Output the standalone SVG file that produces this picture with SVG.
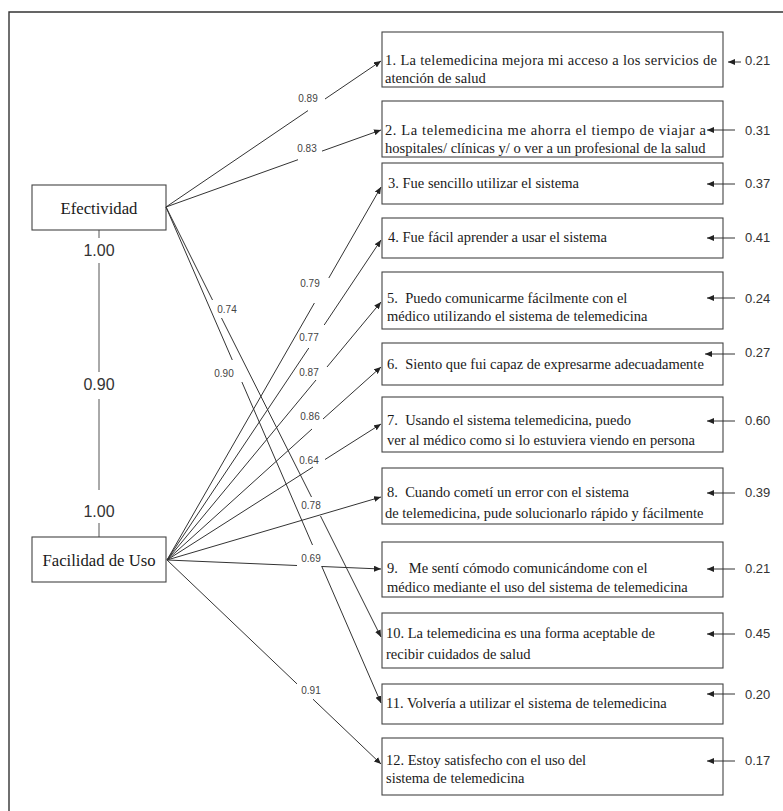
<svg xmlns="http://www.w3.org/2000/svg" width="783" height="811" viewBox="0 0 783 811">
<style>
.frame{fill:none;stroke:#333;stroke-width:1.4}
.box{fill:#fff;stroke:#444;stroke-width:1.1}
.lat{font-family:"Liberation Serif","Times New Roman",serif;font-size:16.7px;fill:#1a1a1a;text-anchor:middle}
.item{font-family:"Liberation Serif","Times New Roman",serif;font-size:14.5px;fill:#1a1a1a;white-space:pre}
.cor{font-family:"Liberation Sans",Arial,sans-serif;font-size:16px;fill:#333;text-anchor:middle}
.lbl{font-family:"Liberation Sans",Arial,sans-serif;font-size:10px;fill:#444;text-anchor:middle}
.res{font-family:"Liberation Sans",Arial,sans-serif;font-size:13px;fill:#333}
.arr{fill:none;stroke:#333;stroke-width:1;marker-end:url(#ah)}
.vl{fill:none;stroke:#555;stroke-width:1}
</style>
<defs>
<marker id="ah" markerUnits="userSpaceOnUse" markerWidth="7" markerHeight="6" refX="7" refY="3" orient="auto">
<path d="M0,0 L7,3 L0,6 z" fill="#222"/>
</marker>
</defs>
<rect width="783" height="811" fill="#fff"/>
<path class="frame" d="M9,811 L9,12 L783,12"/>

<g id="correlation">
<path class="vl" d="M99,230 L99,238 M99,263 L99,372 M99,399 L99,490 M99,523 L99,537"/>
<text class="cor" x="99" y="256">1.00</text>
<text class="cor" x="99" y="390">0.90</text>
<text class="cor" x="99" y="517">1.00</text>
</g>

<g id="efectividad">
<rect class="box" x="32" y="185" width="134" height="45"/>
<text class="lat" x="99" y="214">Efectividad</text>
</g>
<g id="facilidad">
<rect class="box" x="32" y="537" width="134" height="45"/>
<text class="lat" x="99" y="566">Facilidad de Uso</text>
</g>

<g id="item1">
<rect class="box" x="382" y="32" width="341" height="55"/>
<text class="item" x="385" y="65" textLength="332" lengthAdjust="spacing">1. La telemedicina mejora mi acceso a los servicios de</text>
<text class="item" x="385" y="83">atención de salud</text>
</g>
<g id="item2">
<rect class="box" x="382" y="101" width="341" height="56"/>
<text class="item" x="385" y="135" textLength="321" lengthAdjust="spacing">2. La telemedicina me ahorra el tiempo de viajar a</text>
<text class="item" x="385" y="153">hospitales/ clínicas y/ o ver a un profesional de la salud</text>
</g>
<g id="item3">
<rect class="box" x="382" y="163" width="341" height="41"/>
<text class="item" x="388" y="188">3. Fue sencillo utilizar el sistema</text>
</g>
<g id="item4">
<rect class="box" x="382" y="218" width="341" height="40"/>
<text class="item" x="388" y="242">4. Fue fácil aprender a usar el sistema</text>
</g>
<g id="item5">
<rect class="box" x="382" y="272" width="341" height="57"/>
<text class="item" x="387" y="303">5.  Puedo comunicarme fácilmente con el</text>
<text class="item" x="387" y="321">médico utilizando el sistema de telemedicina</text>
</g>
<g id="item6">
<rect class="box" x="382" y="343" width="341" height="42"/>
<text class="item" x="387" y="369">6.  Siento que fui capaz de expresarme adecuadamente</text>
</g>
<g id="item7">
<rect class="box" x="382" y="397" width="341" height="55"/>
<text class="item" x="387" y="425">7.  Usando el sistema telemedicina, puedo</text>
<text class="item" x="387" y="445">ver al médico como si lo estuviera viendo en persona</text>
</g>
<g id="item8">
<rect class="box" x="382" y="468" width="341" height="56"/>
<text class="item" x="387" y="497">8.  Cuando cometí un error con el sistema</text>
<text class="item" x="385" y="518">de telemedicina, pude solucionarlo rápido y fácilmente</text>
</g>
<g id="item9">
<rect class="box" x="382" y="542" width="341" height="55"/>
<text class="item" x="387" y="573">9.   Me sentí cómodo comunicándome con el</text>
<text class="item" x="387" y="592">médico mediante el uso del sistema de telemedicina</text>
</g>
<g id="item10">
<rect class="box" x="382" y="613" width="341" height="55"/>
<text class="item" x="386" y="638">10. La telemedicina es una forma aceptable de</text>
<text class="item" x="386" y="659">recibir cuidados de salud</text>
</g>
<g id="item11">
<rect class="box" x="382" y="684" width="341" height="40"/>
<text class="item" x="386" y="708">11. Volvería a utilizar el sistema de telemedicina</text>
</g>
<g id="item12">
<rect class="box" x="382" y="738" width="341" height="57"/>
<text class="item" x="386" y="765">12. Estoy satisfecho con el uso del</text>
<text class="item" x="386" y="783">sistema de telemedicina</text>
</g>

<g id="connectors">
<path class="arr" d="M166,207 L308,110.6 M325,99 L381,61"/>
<path class="arr" d="M166,207 L298,159.7 M322,151.1 L381,130"/>
<path class="arr" d="M166,207 L212.5,300 M221.5,318 L311.5,497 M320.5,516 L381,637"/>
<path class="arr" d="M166,207 L232.3,360 M241.9,382 L312.5,545 M321.6,566 L381,703"/>
<path class="arr" d="M167,560 L314.4,303 M328.8,278 L381,187"/>
<path class="arr" d="M167,560 L308.8,348 M324.2,325 L381,240"/>
<path class="arr" d="M167,560 L316,380 M327,367 L381,302"/>
<path class="arr" d="M167,560 L312,429 M323,419 L381,367"/>
<path class="arr" d="M167,560 L313,467 M325,459.5 L381,424"/>
<path class="arr" d="M167,560 L381,497"/>
<path class="arr" d="M167,560 L297,565.5 M322,566.5 L381,569"/>
<path class="arr" d="M167,560 L297,683.9 M313,699.2 L381,764"/>
<path class="arr" d="M741,62 L728,62"/>
<path class="arr" d="M735,130 L707,130"/>
<path class="arr" d="M735,184 L707,184"/>
<path class="arr" d="M735,238 L707,238"/>
<path class="arr" d="M735,298 L707,298"/>
<path class="arr" d="M735,354 L705,354"/>
<path class="arr" d="M735,421 L707,421"/>
<path class="arr" d="M735,493 L707,493"/>
<path class="arr" d="M735,569 L707,569"/>
<path class="arr" d="M735,634 L707,634"/>
<path class="arr" d="M735,694 L707,694"/>
<path class="arr" d="M735,761 L707,761"/>
<text class="lbl" x="308" y="101.5">0.89</text>
<text class="lbl" x="307" y="151.5">0.83</text>
<text class="lbl" x="227" y="312.5">0.74</text>
<text class="lbl" x="224" y="376.5">0.90</text>
<text class="lbl" x="310" y="286.5">0.79</text>
<text class="lbl" x="309" y="340.5">0.77</text>
<text class="lbl" x="309" y="375.5">0.87</text>
<text class="lbl" x="310" y="419.5">0.86</text>
<text class="lbl" x="309" y="463.5">0.64</text>
<text class="lbl" x="311" y="508.5">0.78</text>
<text class="lbl" x="311" y="561.5">0.69</text>
<text class="lbl" x="311" y="693.5">0.91</text>
<text class="res" x="745" y="64.5">0.21</text>
<text class="res" x="745" y="134.5">0.31</text>
<text class="res" x="745" y="187.5">0.37</text>
<text class="res" x="745" y="241.5">0.41</text>
<text class="res" x="745" y="302.5">0.24</text>
<text class="res" x="745" y="356.5">0.27</text>
<text class="res" x="745" y="424.5">0.60</text>
<text class="res" x="745" y="496.5">0.39</text>
<text class="res" x="745" y="572.5">0.21</text>
<text class="res" x="745" y="637.5">0.45</text>
<text class="res" x="745" y="698.5">0.20</text>
<text class="res" x="745" y="764.5">0.17</text>
</g>
</svg>
